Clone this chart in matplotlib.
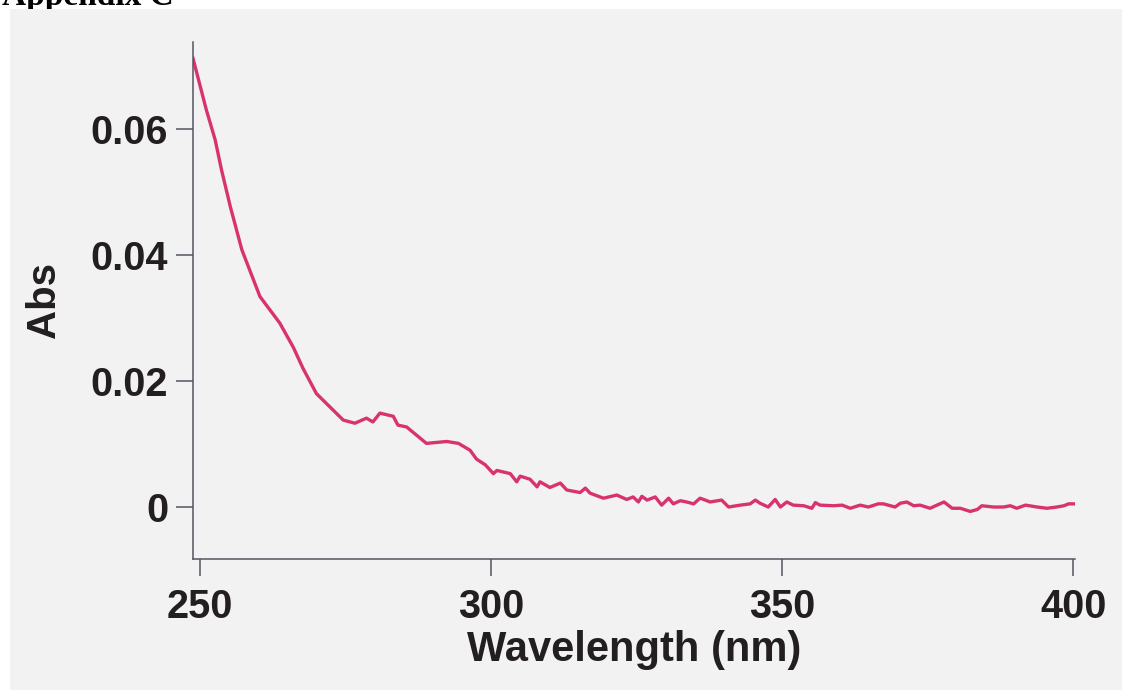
import matplotlib
matplotlib.use("Agg")
import matplotlib.pyplot as plt
from matplotlib.patches import Rectangle

wavelength = [248.8, 251.1, 252.6, 253.7, 255.2, 257.2, 260.3, 263.7, 266.0, 267.7,
              270.0, 272.3, 274.6, 276.6, 278.6, 279.7, 280.9, 283.2, 284.0, 285.5,
              288.9, 292.4, 294.4, 296.4, 297.5, 299.0, 300.4, 301.0, 303.3, 304.4,
              305.0, 306.7, 307.9, 308.4, 310.1, 311.9, 313.0, 315.3, 316.2, 317.0,
              319.3, 321.6, 323.3, 324.4, 325.3, 325.9, 326.8, 328.2, 329.3, 330.5,
              331.3, 332.5, 333.6, 334.8, 335.9, 336.8, 337.6, 339.6, 340.8, 342.8,
              344.5, 345.4, 346.2, 347.6, 348.8, 349.7, 350.8, 351.9, 353.7, 355.1,
              355.7, 356.5, 358.8, 360.3, 361.7, 363.4, 364.8, 366.5, 367.4, 369.4,
              370.3, 371.4, 372.6, 373.7, 375.4, 376.6, 377.8, 379.2, 380.6, 382.3,
              383.5, 384.3, 386.3, 388.0, 389.2, 390.3, 391.8, 393.8, 395.5, 397.2,
              398.4, 399.2, 400.3]
absorbance = [0.0712, 0.0630, 0.0583, 0.0535, 0.0477, 0.0408, 0.0334, 0.0292, 0.0254, 0.0220,
              0.0180, 0.0159, 0.0138, 0.0133, 0.0141, 0.0135, 0.0149, 0.0144, 0.0130, 0.0127,
              0.0101, 0.0104, 0.0101, 0.0090, 0.0076, 0.0067, 0.0053, 0.0058, 0.0053, 0.0040,
              0.0049, 0.0044, 0.0032, 0.0040, 0.0031, 0.0038, 0.0027, 0.0023, 0.0030, 0.0022,
              0.0014, 0.0019, 0.0012, 0.0016, 0.0008, 0.0017, 0.0011, 0.0016, 0.0003, 0.0014,
              0.0005, 0.0010, 0.0008, 0.0005, 0.0014, 0.0011, 0.0008, 0.0011, 0.0000, 0.0003,
              0.0005, 0.0011, 0.0006, 0.0000, 0.0012, 0.0000, 0.0008, 0.0003, 0.0002, -0.0002,
              0.0007, 0.0003, 0.0002, 0.0003, -0.0002, 0.0003, 0.0000, 0.0005, 0.0005, 0.0000,
              0.0006, 0.0008, 0.0002, 0.0003, -0.0002, 0.0003, 0.0008, -0.0002, -0.0002, -0.0007,
              -0.0004, 0.0002, 0.0000, 0.0000, 0.0002, -0.0002, 0.0003, 0.0000, -0.0002, 0.0000,
              0.0002, 0.0005, 0.0005]

x_ticks = [250, 300, 350, 400]
y_ticks = [0, 0.02, 0.04, 0.06]
y_tick_labels = ["0", "0.02", "0.04", "0.06"]

W, H = 1122, 690
fig = plt.figure(figsize=(W / 100, H / 100), dpi=100, facecolor="white")

text_color = "#231f20"
spine_color = "#55555f"
line_color = "#d8336f"
font = "Liberation Sans"

# title partly hidden behind the scanned panel, as in the reference
fig.text(2 / W, 1 - 5 / H, "Appendix C", fontsize=24, fontweight="bold",
         family="Liberation Serif", ha="left", va="baseline", color="black", zorder=-3)
fig.patches.append(Rectangle((10 / W, -0.01), 1.0, 1 - 9 / H + 0.01, transform=fig.transFigure,
                             facecolor="#f2f2f2", edgecolor="none", zorder=-2))

ax = fig.add_axes([193 / W, 1 - 559 / H, (1075 - 193) / W, (559 - 42) / H])
ax.set_facecolor("none")
ax.plot(wavelength, absorbance, color=line_color, lw=2.4, solid_joinstyle="round")

ax.set_xlim(248.8, 400.3)
ax.set_ylim(-0.00825, 0.0738)
for s in ["top", "right"]:
    ax.spines[s].set_visible(False)
for s in ["left", "bottom"]:
    ax.spines[s].set_color(spine_color)
    ax.spines[s].set_linewidth(1.1)

ax.set_xticks(x_ticks)
ax.set_yticks(y_ticks)
ax.set_yticklabels(y_tick_labels)
ax.tick_params(axis="both", direction="out", color=spine_color, width=1.1,
               labelcolor=text_color, labelsize=28.5)
ax.tick_params(axis="x", length=12, pad=9)
ax.tick_params(axis="y", length=12, pad=6)
for lab in ax.get_xticklabels() + ax.get_yticklabels():
    lab.set_fontweight("bold")
    lab.set_family(font)

ax.set_xlabel("Wavelength (nm)", fontsize=30, fontweight="bold", family=font,
              color=text_color, labelpad=3)
ax.set_ylabel("Abs", fontsize=29, fontweight="bold", family=font,
              color=text_color, labelpad=20)

fig.savefig("out.png", dpi=100, facecolor="white")
